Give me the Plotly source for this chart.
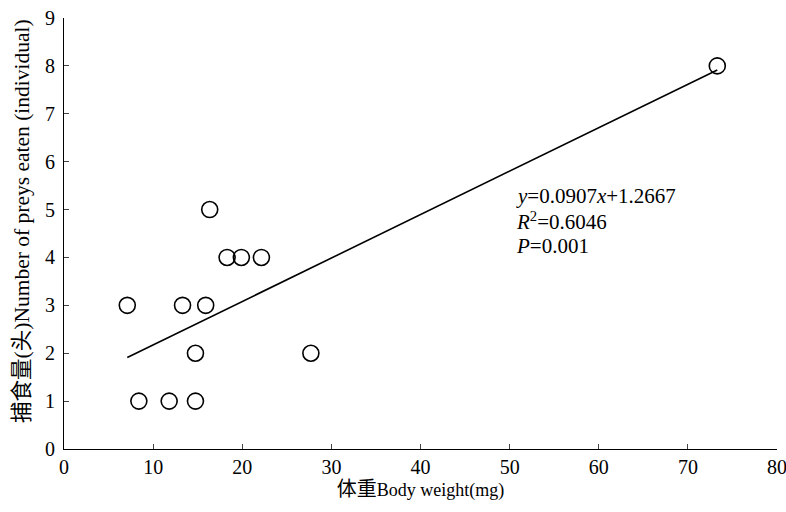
import plotly.graph_objects as go

body_weight = [7.1, 8.4, 11.8, 13.3, 14.75, 14.75, 15.9, 16.35, 18.3, 19.9, 22.15, 27.7, 73.3]
preys_eaten = [3, 1, 1, 3, 2, 1, 3, 5, 4, 4, 4, 2, 8]
slope = 0.0907
intercept = 1.2667
r_squared = 0.6046
p_value = 0.001
x_ticks = [0, 10, 20, 30, 40, 50, 60, 70, 80]
y_ticks = [0, 1, 2, 3, 4, 5, 6, 7, 8, 9]

FONT = "Liberation Serif, Times New Roman, Noto Sans CJK SC, serif"

x_fit = [min(body_weight), max(body_weight)]
y_fit = [slope * v + intercept for v in x_fit]

fig = go.Figure()
fig.add_trace(go.Scatter(x=x_fit, y=y_fit, mode="lines",
                         line=dict(color="black", width=1.6), showlegend=False))
fig.add_trace(go.Scatter(x=body_weight, y=preys_eaten, mode="markers",
                         marker=dict(symbol="circle-open", size=16, color="black",
                                     line=dict(width=1.6, color="black")),
                         showlegend=False))

stat_lines = [
    (5.28, f"<i>y</i>={slope}<i>x</i>+{intercept}"),
    (4.76, f"<i>R</i><sup>2</sup>={r_squared}"),
    (4.23, f"<i>P</i>={p_value}"),
]
for yy, txt in stat_lines:
    fig.add_annotation(x=50.65, y=yy, xref="x", yref="y", xanchor="left", yanchor="middle",
                       align="left", valign="middle", showarrow=False, text=txt,
                       height=24, borderpad=0,
                       font=dict(family=FONT, size=21, color="black"))

# y-axis title placed as rotated annotation (slightly above plot centre, as in the reference)
fig.add_annotation(x=-0.059, y=0.529, xref="paper", yref="paper", xanchor="center", yanchor="middle",
                   textangle=-90, showarrow=False,
                   text="捕食量(头)Number of preys eaten (individual)",
                   font=dict(family=FONT, size=21.5, color="black"))

fig.update_layout(
    width=786, height=512,
    margin=dict(l=64, r=9, t=18, b=63),
    paper_bgcolor="white", plot_bgcolor="white",
    font=dict(family=FONT, size=20, color="black"),
    xaxis=dict(range=[0, 80], tickvals=x_ticks, ticks="inside", ticklen=5,
               showline=True, linecolor="black", linewidth=1, showgrid=False,
               zeroline=False, tickfont=dict(size=20), automargin=False,
               ticklabeloverflow="allow",
               title=dict(text='<span style="font-size:20px">体重</span>Body weight(mg)',
                          font=dict(size=18), standoff=6)),
    yaxis=dict(range=[0, 9], tickvals=y_ticks, ticks="inside", ticklen=5,
               showline=True, linecolor="black", linewidth=1, showgrid=False,
               zeroline=False, tickfont=dict(size=20), automargin=False,
               ticklabeloverflow="allow", ticklabelstandoff=4),
)

fig.write_html("out.html", config={"displayModeBar": False},
               post_script="document.body.style.margin='0';")
